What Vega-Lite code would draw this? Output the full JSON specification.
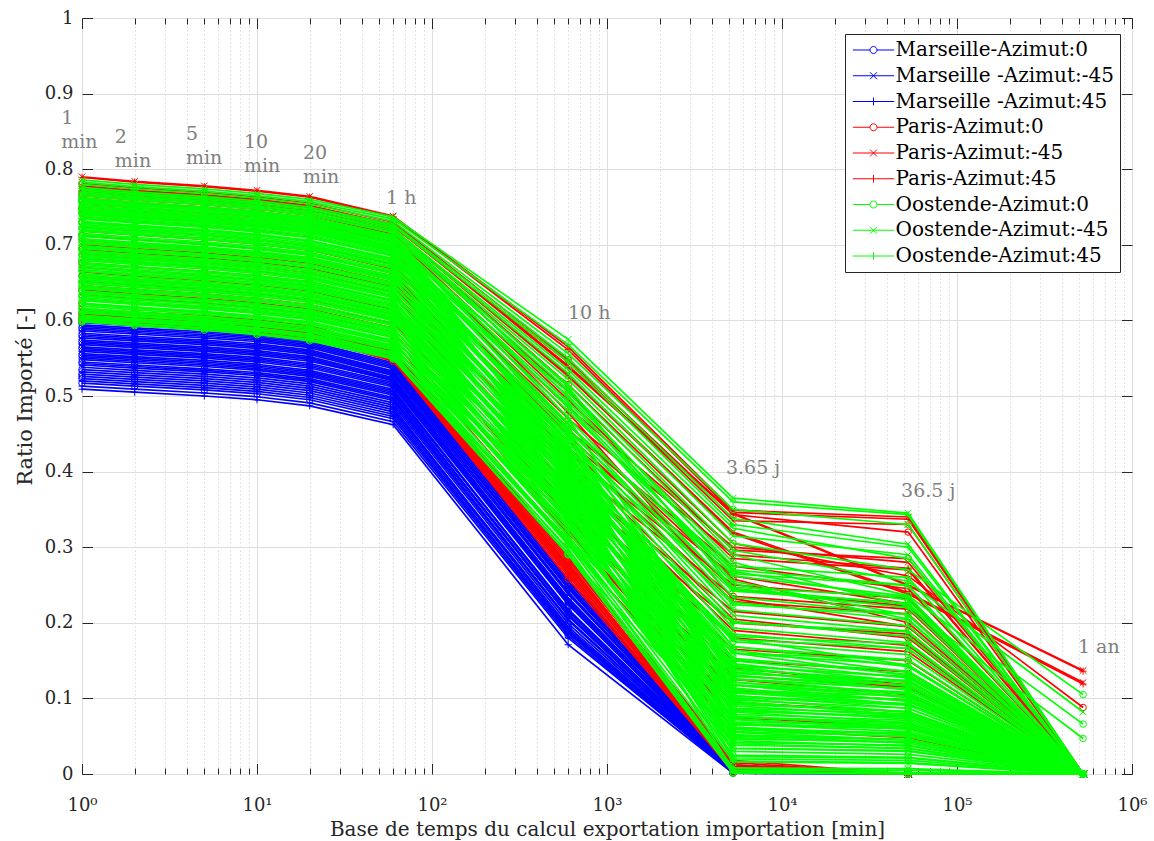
{
"$schema":"https://vega.github.io/schema/vega-lite/v6.json",
"width":1050,"height":756,
"autosize":{"type":"none"},
"padding":{"left":82,"top":18,"right":22,"bottom":67},
"background":"white",
"datasets":{
"names":[{"k":"M0","s":"Marseille-Azimut:0"},{"k":"M-","s":"Marseille -Azimut:-45"},{"k":"M+","s":"Marseille -Azimut:45"},{"k":"P0","s":"Paris-Azimut:0"},{"k":"P-","s":"Paris-Azimut:-45"},{"k":"P+","s":"Paris-Azimut:45"},{"k":"O0","s":"Oostende-Azimut:0"},{"k":"O-","s":"Oostende-Azimut:-45"},{"k":"O+","s":"Oostende-Azimut:45"}],
"xs":[{"t":"a","minutes":1},{"t":"b","minutes":2},{"t":"c","minutes":5},{"t":"d","minutes":10},{"t":"e","minutes":20},{"t":"f","minutes":60},{"t":"g","minutes":600},{"t":"h","minutes":5256},{"t":"i","minutes":52560},{"t":"j","minutes":525600}],
"lines":[
{"k":"M+","id":1,"a":0.509,"b":0.505,"c":0.5,"d":0.495,"e":0.487,"f":0.462,"g":0.171,"h":0.001,"i":0,"j":0},
{"k":"M+","id":2,"a":0.513,"b":0.509,"c":0.504,"d":0.499,"e":0.491,"f":0.466,"g":0.18,"h":0.002,"i":0,"j":0},
{"k":"M+","id":3,"a":0.52,"b":0.516,"c":0.511,"d":0.506,"e":0.498,"f":0.473,"g":0.186,"h":0.002,"i":0,"j":0},
{"k":"M+","id":4,"a":0.532,"b":0.528,"c":0.523,"d":0.518,"e":0.51,"f":0.485,"g":0.19,"h":0.003,"i":0,"j":0},
{"k":"M+","id":5,"a":0.541,"b":0.537,"c":0.532,"d":0.527,"e":0.519,"f":0.494,"g":0.205,"h":0.004,"i":0,"j":0},
{"k":"M+","id":6,"a":0.55,"b":0.546,"c":0.541,"d":0.536,"e":0.528,"f":0.503,"g":0.209,"h":0.005,"i":0,"j":0},
{"k":"M+","id":7,"a":0.559,"b":0.555,"c":0.55,"d":0.545,"e":0.537,"f":0.512,"g":0.224,"h":0.006,"i":0,"j":0},
{"k":"M+","id":8,"a":0.568,"b":0.564,"c":0.559,"d":0.554,"e":0.546,"f":0.521,"g":0.227,"h":0.007,"i":0,"j":0},
{"k":"M+","id":9,"a":0.577,"b":0.573,"c":0.568,"d":0.563,"e":0.555,"f":0.527,"g":0.241,"h":0.008,"i":0,"j":0},
{"k":"M+","id":10,"a":0.586,"b":0.582,"c":0.577,"d":0.572,"e":0.564,"f":0.536,"g":0.246,"h":0.01,"i":0,"j":0},
{"k":"M+","id":11,"a":0.594,"b":0.59,"c":0.585,"d":0.58,"e":0.572,"f":0.544,"g":0.258,"h":0.011,"i":0,"j":0},
{"k":"M0","id":12,"a":0.517,"b":0.513,"c":0.508,"d":0.503,"e":0.495,"f":0.47,"g":0.183,"h":0.001,"i":0,"j":0},
{"k":"M0","id":13,"a":0.523,"b":0.519,"c":0.514,"d":0.509,"e":0.501,"f":0.476,"g":0.188,"h":0.002,"i":0,"j":0},
{"k":"M0","id":14,"a":0.526,"b":0.522,"c":0.517,"d":0.512,"e":0.504,"f":0.479,"g":0.192,"h":0.003,"i":0,"j":0},
{"k":"M0","id":15,"a":0.529,"b":0.525,"c":0.52,"d":0.515,"e":0.507,"f":0.482,"g":0.195,"h":0.003,"i":0,"j":0},
{"k":"M0","id":16,"a":0.535,"b":0.531,"c":0.526,"d":0.521,"e":0.513,"f":0.488,"g":0.199,"h":0.004,"i":0,"j":0},
{"k":"M0","id":17,"a":0.545,"b":0.541,"c":0.536,"d":0.531,"e":0.523,"f":0.498,"g":0.21,"h":0.005,"i":0,"j":0},
{"k":"M0","id":18,"a":0.554,"b":0.55,"c":0.545,"d":0.54,"e":0.532,"f":0.507,"g":0.215,"h":0.006,"i":0,"j":0},
{"k":"M0","id":19,"a":0.563,"b":0.559,"c":0.554,"d":0.549,"e":0.541,"f":0.516,"g":0.228,"h":0.007,"i":0,"j":0},
{"k":"M0","id":20,"a":0.572,"b":0.568,"c":0.563,"d":0.558,"e":0.55,"f":0.522,"g":0.232,"h":0.008,"i":0,"j":0},
{"k":"M0","id":21,"a":0.581,"b":0.577,"c":0.572,"d":0.567,"e":0.559,"f":0.531,"g":0.245,"h":0.009,"i":0,"j":0},
{"k":"M0","id":22,"a":0.59,"b":0.586,"c":0.581,"d":0.576,"e":0.568,"f":0.54,"g":0.249,"h":0.01,"i":0,"j":0},
{"k":"M0","id":23,"a":0.597,"b":0.593,"c":0.588,"d":0.583,"e":0.575,"f":0.547,"g":0.256,"h":0.012,"i":0,"j":0},
{"k":"M-","id":24,"a":0.538,"b":0.534,"c":0.529,"d":0.524,"e":0.516,"f":0.491,"g":0.203,"h":0.004,"i":0,"j":0},
{"k":"M-","id":25,"a":0.543,"b":0.539,"c":0.534,"d":0.529,"e":0.521,"f":0.496,"g":0.204,"h":0.004,"i":0,"j":0},
{"k":"M-","id":26,"a":0.548,"b":0.544,"c":0.539,"d":0.534,"e":0.526,"f":0.501,"g":0.212,"h":0.005,"i":0,"j":0},
{"k":"M-","id":27,"a":0.552,"b":0.548,"c":0.543,"d":0.538,"e":0.53,"f":0.505,"g":0.218,"h":0.005,"i":0,"j":0},
{"k":"M-","id":28,"a":0.556,"b":0.552,"c":0.547,"d":0.542,"e":0.534,"f":0.509,"g":0.216,"h":0.006,"i":0,"j":0},
{"k":"M-","id":29,"a":0.561,"b":0.557,"c":0.552,"d":0.547,"e":0.539,"f":0.514,"g":0.225,"h":0.006,"i":0,"j":0},
{"k":"M-","id":30,"a":0.565,"b":0.561,"c":0.556,"d":0.551,"e":0.543,"f":0.518,"g":0.23,"h":0.007,"i":0,"j":0},
{"k":"M-","id":31,"a":0.57,"b":0.566,"c":0.561,"d":0.556,"e":0.548,"f":0.52,"g":0.233,"h":0.007,"i":0,"j":0},
{"k":"M-","id":32,"a":0.574,"b":0.57,"c":0.565,"d":0.56,"e":0.552,"f":0.524,"g":0.238,"h":0.008,"i":0,"j":0},
{"k":"M-","id":33,"a":0.579,"b":0.575,"c":0.57,"d":0.565,"e":0.557,"f":0.529,"g":0.24,"h":0.009,"i":0,"j":0},
{"k":"M-","id":34,"a":0.583,"b":0.579,"c":0.574,"d":0.569,"e":0.561,"f":0.533,"g":0.247,"h":0.009,"i":0,"j":0},
{"k":"M-","id":35,"a":0.588,"b":0.584,"c":0.579,"d":0.574,"e":0.566,"f":0.538,"g":0.251,"h":0.01,"i":0,"j":0},
{"k":"M-","id":36,"a":0.592,"b":0.588,"c":0.583,"d":0.578,"e":0.57,"f":0.542,"g":0.254,"h":0.011,"i":0,"j":0},
{"k":"P0","id":37,"a":0.599,"b":0.595,"c":0.59,"d":0.585,"e":0.577,"f":0.546,"g":0.258,"h":0.003,"i":0,"j":0},
{"k":"P-","id":38,"a":0.6,"b":0.596,"c":0.591,"d":0.586,"e":0.578,"f":0.547,"g":0.262,"h":0.006,"i":0,"j":0},
{"k":"P+","id":39,"a":0.601,"b":0.597,"c":0.592,"d":0.587,"e":0.579,"f":0.548,"g":0.265,"h":0.002,"i":0,"j":0},
{"k":"P0","id":40,"a":0.602,"b":0.598,"c":0.593,"d":0.588,"e":0.58,"f":0.549,"g":0.268,"h":0.008,"i":0,"j":0},
{"k":"P-","id":41,"a":0.603,"b":0.599,"c":0.594,"d":0.589,"e":0.581,"f":0.55,"g":0.27,"h":0.004,"i":0,"j":0},
{"k":"P+","id":42,"a":0.604,"b":0.6,"c":0.595,"d":0.59,"e":0.582,"f":0.551,"g":0.273,"h":0.01,"i":0,"j":0},
{"k":"P0","id":43,"a":0.605,"b":0.601,"c":0.596,"d":0.591,"e":0.583,"f":0.552,"g":0.275,"h":0.005,"i":0,"j":0},
{"k":"P-","id":44,"a":0.606,"b":0.602,"c":0.597,"d":0.592,"e":0.584,"f":0.553,"g":0.277,"h":0.012,"i":0,"j":0},
{"k":"P+","id":45,"a":0.608,"b":0.604,"c":0.599,"d":0.594,"e":0.586,"f":0.555,"g":0.28,"h":0.007,"i":0,"j":0},
{"k":"P0","id":46,"a":0.61,"b":0.606,"c":0.601,"d":0.596,"e":0.588,"f":0.557,"g":0.283,"h":0.015,"i":0,"j":0},
{"k":"P-","id":47,"a":0.612,"b":0.608,"c":0.603,"d":0.598,"e":0.59,"f":0.559,"g":0.286,"h":0.009,"i":0,"j":0},
{"k":"P+","id":48,"a":0.615,"b":0.611,"c":0.606,"d":0.601,"e":0.593,"f":0.562,"g":0.289,"h":0.018,"i":0,"j":0},
{"k":"P0","id":49,"a":0.622,"b":0.617,"c":0.611,"d":0.605,"e":0.597,"f":0.572,"g":0.305,"h":0.06,"i":0.048,"j":0},
{"k":"P-","id":50,"a":0.628,"b":0.623,"c":0.617,"d":0.611,"e":0.603,"f":0.578,"g":0.318,"h":0.095,"i":0.082,"j":0},
{"k":"P+","id":51,"a":0.634,"b":0.629,"c":0.623,"d":0.617,"e":0.609,"f":0.584,"g":0.335,"h":0.13,"i":0.115,"j":0},
{"k":"P0","id":52,"a":0.64,"b":0.635,"c":0.629,"d":0.623,"e":0.615,"f":0.59,"g":0.322,"h":0.075,"i":0.062,"j":0},
{"k":"P-","id":53,"a":0.646,"b":0.641,"c":0.635,"d":0.629,"e":0.621,"f":0.596,"g":0.35,"h":0.15,"i":0.135,"j":0},
{"k":"P+","id":54,"a":0.652,"b":0.647,"c":0.641,"d":0.635,"e":0.627,"f":0.602,"g":0.34,"h":0.11,"i":0.098,"j":0},
{"k":"P0","id":55,"a":0.658,"b":0.653,"c":0.647,"d":0.641,"e":0.633,"f":0.608,"g":0.365,"h":0.18,"i":0.162,"j":0},
{"k":"P-","id":56,"a":0.664,"b":0.659,"c":0.653,"d":0.647,"e":0.639,"f":0.614,"g":0.355,"h":0.14,"i":0.118,"j":0},
{"k":"P+","id":57,"a":0.67,"b":0.665,"c":0.659,"d":0.653,"e":0.645,"f":0.62,"g":0.38,"h":0.2,"i":0.185,"j":0},
{"k":"P0","id":58,"a":0.676,"b":0.671,"c":0.665,"d":0.659,"e":0.651,"f":0.626,"g":0.372,"h":0.165,"i":0.15,"j":0},
{"k":"P-","id":59,"a":0.682,"b":0.677,"c":0.671,"d":0.665,"e":0.657,"f":0.632,"g":0.395,"h":0.215,"i":0.195,"j":0},
{"k":"P+","id":60,"a":0.688,"b":0.683,"c":0.677,"d":0.671,"e":0.663,"f":0.638,"g":0.388,"h":0.125,"i":0.105,"j":0},
{"k":"P0","id":61,"a":0.694,"b":0.689,"c":0.683,"d":0.677,"e":0.669,"f":0.644,"g":0.41,"h":0.235,"i":0.218,"j":0},
{"k":"P-","id":62,"a":0.7,"b":0.695,"c":0.689,"d":0.683,"e":0.675,"f":0.65,"g":0.402,"h":0.19,"i":0.17,"j":0},
{"k":"P+","id":63,"a":0.706,"b":0.701,"c":0.695,"d":0.689,"e":0.681,"f":0.656,"g":0.425,"h":0.25,"i":0.232,"j":0},
{"k":"P0","id":64,"a":0.712,"b":0.707,"c":0.701,"d":0.695,"e":0.687,"f":0.662,"g":0.418,"h":0.205,"i":0.18,"j":0},
{"k":"P-","id":65,"a":0.718,"b":0.713,"c":0.707,"d":0.701,"e":0.693,"f":0.668,"g":0.44,"h":0.262,"i":0.225,"j":0},
{"k":"P+","id":66,"a":0.724,"b":0.719,"c":0.713,"d":0.707,"e":0.699,"f":0.674,"g":0.432,"h":0.228,"i":0.212,"j":0},
{"k":"P0","id":67,"a":0.73,"b":0.725,"c":0.719,"d":0.713,"e":0.705,"f":0.68,"g":0.455,"h":0.275,"i":0.245,"j":0},
{"k":"P-","id":68,"a":0.736,"b":0.731,"c":0.725,"d":0.719,"e":0.711,"f":0.686,"g":0.448,"h":0.245,"i":0.222,"j":0},
{"k":"P+","id":69,"a":0.742,"b":0.737,"c":0.731,"d":0.725,"e":0.717,"f":0.692,"g":0.47,"h":0.29,"i":0.272,"j":0},
{"k":"P0","id":70,"a":0.748,"b":0.743,"c":0.737,"d":0.731,"e":0.723,"f":0.698,"g":0.462,"h":0.258,"i":0.2,"j":0},
{"k":"P-","id":71,"a":0.754,"b":0.749,"c":0.743,"d":0.737,"e":0.729,"f":0.704,"g":0.485,"h":0.3,"i":0.28,"j":0},
{"k":"P+","id":72,"a":0.76,"b":0.755,"c":0.749,"d":0.743,"e":0.735,"f":0.71,"g":0.478,"h":0.232,"i":0.195,"j":0},
{"k":"P-","id":73,"a":0.79,"b":0.784,"c":0.778,"d":0.772,"e":0.764,"f":0.738,"g":0.565,"h":0.349,"i":0.34,"j":0},
{"k":"P+","id":74,"a":0.789,"b":0.783,"c":0.777,"d":0.771,"e":0.763,"f":0.737,"g":0.561,"h":0.346,"i":0.337,"j":0},
{"k":"P0","id":75,"a":0.781,"b":0.775,"c":0.769,"d":0.763,"e":0.755,"f":0.73,"g":0.548,"h":0.343,"i":0.32,"j":0},
{"k":"P-","id":76,"a":0.778,"b":0.772,"c":0.766,"d":0.76,"e":0.752,"f":0.727,"g":0.54,"h":0.345,"i":0.25,"j":0.137},
{"k":"P+","id":77,"a":0.777,"b":0.771,"c":0.765,"d":0.759,"e":0.751,"f":0.726,"g":0.538,"h":0.344,"i":0.249,"j":0.136},
{"k":"P-","id":78,"a":0.772,"b":0.766,"c":0.76,"d":0.754,"e":0.746,"f":0.721,"g":0.528,"h":0.32,"i":0.24,"j":0.121},
{"k":"P+","id":79,"a":0.771,"b":0.765,"c":0.759,"d":0.753,"e":0.745,"f":0.72,"g":0.526,"h":0.318,"i":0.238,"j":0.119},
{"k":"P0","id":80,"a":0.768,"b":0.762,"c":0.756,"d":0.75,"e":0.742,"f":0.717,"g":0.515,"h":0.305,"i":0.262,"j":0.088},
{"k":"P0","id":81,"a":0.765,"b":0.759,"c":0.753,"d":0.747,"e":0.739,"f":0.714,"g":0.505,"h":0.296,"i":0.285,"j":0},
{"k":"P-","id":82,"a":0.775,"b":0.769,"c":0.763,"d":0.757,"e":0.749,"f":0.724,"g":0.545,"h":0.335,"i":0.33,"j":0},
{"k":"P+","id":83,"a":0.762,"b":0.756,"c":0.75,"d":0.744,"e":0.736,"f":0.711,"g":0.495,"h":0.285,"i":0.27,"j":0},
{"k":"O0","id":84,"a":0.598,"b":0.593,"c":0.587,"d":0.581,"e":0.573,"f":0.549,"g":0.29,"h":0.051,"i":0.041,"j":0},
{"k":"O-","id":85,"a":0.6,"b":0.595,"c":0.589,"d":0.583,"e":0.575,"f":0.551,"g":0.339,"h":0.016,"i":0.014,"j":0},
{"k":"O+","id":86,"a":0.603,"b":0.598,"c":0.592,"d":0.586,"e":0.578,"f":0.554,"g":0.311,"h":0.04,"i":0.034,"j":0},
{"k":"O0","id":87,"a":0.605,"b":0.6,"c":0.594,"d":0.588,"e":0.58,"f":0.556,"g":0.36,"h":0.005,"i":0.005,"j":0},
{"k":"O-","id":88,"a":0.607,"b":0.602,"c":0.596,"d":0.59,"e":0.582,"f":0.558,"g":0.332,"h":0.03,"i":0.026,"j":0},
{"k":"O+","id":89,"a":0.61,"b":0.605,"c":0.599,"d":0.593,"e":0.585,"f":0.561,"g":0.305,"h":0.055,"i":0.045,"j":0},
{"k":"O0","id":90,"a":0.612,"b":0.607,"c":0.601,"d":0.595,"e":0.587,"f":0.563,"g":0.353,"h":0.02,"i":0.018,"j":0},
{"k":"O-","id":91,"a":0.614,"b":0.609,"c":0.603,"d":0.597,"e":0.589,"f":0.565,"g":0.326,"h":0.044,"i":0.037,"j":0},
{"k":"O+","id":92,"a":0.616,"b":0.611,"c":0.605,"d":0.599,"e":0.591,"f":0.567,"g":0.375,"h":0.16,"i":0.151,"j":0},
{"k":"O0","id":93,"a":0.619,"b":0.614,"c":0.608,"d":0.602,"e":0.594,"f":0.57,"g":0.347,"h":0.034,"i":0.03,"j":0},
{"k":"O-","id":94,"a":0.621,"b":0.616,"c":0.61,"d":0.604,"e":0.596,"f":0.572,"g":0.32,"h":0.059,"i":0.049,"j":0},
{"k":"O+","id":95,"a":0.623,"b":0.618,"c":0.612,"d":0.606,"e":0.598,"f":0.574,"g":0.368,"h":0.023,"i":0.021,"j":0},
{"k":"O0","id":96,"a":0.626,"b":0.621,"c":0.615,"d":0.609,"e":0.601,"f":0.577,"g":0.341,"h":0.048,"i":0.041,"j":0},
{"k":"O-","id":97,"a":0.628,"b":0.623,"c":0.617,"d":0.611,"e":0.603,"f":0.579,"g":0.314,"h":0.073,"i":0.059,"j":0},
{"k":"O+","id":98,"a":0.63,"b":0.625,"c":0.619,"d":0.613,"e":0.605,"f":0.581,"g":0.362,"h":0.038,"i":0.034,"j":0},
{"k":"O0","id":99,"a":0.633,"b":0.628,"c":0.622,"d":0.616,"e":0.608,"f":0.584,"g":0.335,"h":0.062,"i":0.052,"j":0},
{"k":"O-","id":100,"a":0.635,"b":0.63,"c":0.624,"d":0.618,"e":0.61,"f":0.586,"g":0.383,"h":0.178,"i":0.166,"j":0},
{"k":"O+","id":101,"a":0.637,"b":0.632,"c":0.626,"d":0.62,"e":0.612,"f":0.588,"g":0.356,"h":0.052,"i":0.046,"j":0},
{"k":"O0","id":102,"a":0.639,"b":0.634,"c":0.628,"d":0.622,"e":0.614,"f":0.59,"g":0.328,"h":0.077,"i":0.063,"j":0},
{"k":"O-","id":103,"a":0.642,"b":0.637,"c":0.631,"d":0.625,"e":0.617,"f":0.593,"g":0.377,"h":0.042,"i":0.038,"j":0},
{"k":"O+","id":104,"a":0.644,"b":0.639,"c":0.633,"d":0.627,"e":0.619,"f":0.595,"g":0.349,"h":0.066,"i":0.056,"j":0},
{"k":"O0","id":105,"a":0.646,"b":0.641,"c":0.635,"d":0.629,"e":0.621,"f":0.597,"g":0.398,"h":0.182,"i":0.172,"j":0},
{"k":"O-","id":106,"a":0.649,"b":0.644,"c":0.638,"d":0.632,"e":0.624,"f":0.6,"g":0.371,"h":0.056,"i":0.05,"j":0},
{"k":"O+","id":107,"a":0.651,"b":0.646,"c":0.64,"d":0.634,"e":0.626,"f":0.602,"g":0.343,"h":0.082,"i":0.068,"j":0},
{"k":"O0","id":108,"a":0.653,"b":0.648,"c":0.642,"d":0.636,"e":0.628,"f":0.604,"g":0.392,"h":0.046,"i":0.043,"j":0},
{"k":"O-","id":109,"a":0.656,"b":0.651,"c":0.645,"d":0.639,"e":0.631,"f":0.607,"g":0.364,"h":0.072,"i":0.062,"j":0},
{"k":"O+","id":110,"a":0.658,"b":0.653,"c":0.647,"d":0.641,"e":0.633,"f":0.609,"g":0.337,"h":0.096,"i":0.078,"j":0},
{"k":"O0","id":111,"a":0.66,"b":0.655,"c":0.649,"d":0.643,"e":0.635,"f":0.611,"g":0.385,"h":0.06,"i":0.054,"j":0},
{"k":"O-","id":112,"a":0.662,"b":0.657,"c":0.651,"d":0.645,"e":0.637,"f":0.613,"g":0.358,"h":0.086,"i":0.073,"j":0},
{"k":"O+","id":113,"a":0.665,"b":0.66,"c":0.654,"d":0.648,"e":0.64,"f":0.616,"g":0.407,"h":0.2,"i":0.188,"j":0},
{"k":"O0","id":114,"a":0.667,"b":0.662,"c":0.656,"d":0.65,"e":0.642,"f":0.618,"g":0.379,"h":0.075,"i":0.066,"j":0},
{"k":"O-","id":115,"a":0.669,"b":0.664,"c":0.658,"d":0.652,"e":0.644,"f":0.62,"g":0.352,"h":0.1,"i":0.082,"j":0},
{"k":"O+","id":116,"a":0.672,"b":0.667,"c":0.661,"d":0.655,"e":0.647,"f":0.623,"g":0.4,"h":0.065,"i":0.06,"j":0},
{"k":"O0","id":117,"a":0.674,"b":0.669,"c":0.663,"d":0.657,"e":0.649,"f":0.625,"g":0.373,"h":0.09,"i":0.077,"j":0},
{"k":"O-","id":118,"a":0.676,"b":0.671,"c":0.665,"d":0.659,"e":0.651,"f":0.627,"g":0.345,"h":0.114,"i":0.091,"j":0},
{"k":"O+","id":119,"a":0.679,"b":0.674,"c":0.668,"d":0.662,"e":0.654,"f":0.63,"g":0.394,"h":0.079,"i":0.071,"j":0},
{"k":"O0","id":120,"a":0.681,"b":0.676,"c":0.67,"d":0.664,"e":0.656,"f":0.632,"g":0.367,"h":0.104,"i":0.087,"j":0},
{"k":"O-","id":121,"a":0.683,"b":0.678,"c":0.672,"d":0.666,"e":0.658,"f":0.634,"g":0.415,"h":0.069,"i":0.064,"j":0},
{"k":"O+","id":122,"a":0.685,"b":0.68,"c":0.674,"d":0.668,"e":0.66,"f":0.636,"g":0.388,"h":0.094,"i":0.082,"j":0},
{"k":"O0","id":123,"a":0.688,"b":0.683,"c":0.677,"d":0.671,"e":0.663,"f":0.639,"g":0.36,"h":0.118,"i":0.096,"j":0},
{"k":"O-","id":124,"a":0.69,"b":0.685,"c":0.679,"d":0.673,"e":0.665,"f":0.641,"g":0.409,"h":0.083,"i":0.075,"j":0},
{"k":"O+","id":125,"a":0.692,"b":0.687,"c":0.681,"d":0.675,"e":0.667,"f":0.643,"g":0.381,"h":0.108,"i":0.092,"j":0},
{"k":"O0","id":126,"a":0.695,"b":0.69,"c":0.684,"d":0.678,"e":0.67,"f":0.646,"g":0.43,"h":0.224,"i":0.211,"j":0},
{"k":"O-","id":127,"a":0.697,"b":0.692,"c":0.686,"d":0.68,"e":0.672,"f":0.648,"g":0.403,"h":0.098,"i":0.087,"j":0},
{"k":"O+","id":128,"a":0.699,"b":0.694,"c":0.688,"d":0.682,"e":0.674,"f":0.65,"g":0.375,"h":0.122,"i":0.101,"j":0},
{"k":"O0","id":129,"a":0.702,"b":0.697,"c":0.691,"d":0.685,"e":0.677,"f":0.653,"g":0.424,"h":0.087,"i":0.08,"j":0},
{"k":"O-","id":130,"a":0.704,"b":0.699,"c":0.693,"d":0.687,"e":0.679,"f":0.655,"g":0.396,"h":0.112,"i":0.097,"j":0},
{"k":"O+","id":131,"a":0.706,"b":0.701,"c":0.695,"d":0.689,"e":0.681,"f":0.657,"g":0.369,"h":0.138,"i":0.111,"j":0},
{"k":"O0","id":132,"a":0.708,"b":0.703,"c":0.697,"d":0.691,"e":0.683,"f":0.659,"g":0.418,"h":0.103,"i":0.093,"j":0},
{"k":"O-","id":133,"a":0.711,"b":0.706,"c":0.7,"d":0.694,"e":0.686,"f":0.662,"g":0.39,"h":0.126,"i":0.106,"j":0},
{"k":"O+","id":134,"a":0.713,"b":0.708,"c":0.702,"d":0.696,"e":0.688,"f":0.664,"g":0.439,"h":0.242,"i":0.226,"j":0},
{"k":"O0","id":135,"a":0.715,"b":0.71,"c":0.704,"d":0.698,"e":0.69,"f":0.666,"g":0.411,"h":0.117,"i":0.103,"j":0},
{"k":"O-","id":136,"a":0.718,"b":0.713,"c":0.707,"d":0.701,"e":0.693,"f":0.669,"g":0.384,"h":0.142,"i":0.116,"j":0},
{"k":"O+","id":137,"a":0.72,"b":0.715,"c":0.709,"d":0.703,"e":0.695,"f":0.671,"g":0.432,"h":0.107,"i":0.098,"j":0},
{"k":"O0","id":138,"a":0.722,"b":0.717,"c":0.711,"d":0.705,"e":0.697,"f":0.673,"g":0.405,"h":0.131,"i":0.112,"j":0},
{"k":"O-","id":139,"a":0.725,"b":0.72,"c":0.714,"d":0.708,"e":0.7,"f":0.676,"g":0.454,"h":0.247,"i":0.234,"j":0},
{"k":"O+","id":140,"a":0.727,"b":0.722,"c":0.716,"d":0.71,"e":0.702,"f":0.678,"g":0.426,"h":0.121,"i":0.108,"j":0},
{"k":"O0","id":141,"a":0.729,"b":0.724,"c":0.718,"d":0.712,"e":0.704,"f":0.68,"g":0.399,"h":0.146,"i":0.122,"j":0},
{"k":"O-","id":142,"a":0.731,"b":0.726,"c":0.72,"d":0.714,"e":0.706,"f":0.682,"g":0.447,"h":0.111,"i":0.103,"j":0},
{"k":"O+","id":143,"a":0.734,"b":0.729,"c":0.723,"d":0.717,"e":0.709,"f":0.685,"g":0.42,"h":0.135,"i":0.117,"j":0},
{"k":"O0","id":144,"a":0.736,"b":0.731,"c":0.725,"d":0.719,"e":0.711,"f":0.687,"g":0.392,"h":0.16,"i":0.13,"j":0},
{"k":"O-","id":145,"a":0.738,"b":0.733,"c":0.727,"d":0.721,"e":0.713,"f":0.689,"g":0.441,"h":0.125,"i":0.113,"j":0},
{"k":"O+","id":146,"a":0.741,"b":0.736,"c":0.73,"d":0.724,"e":0.716,"f":0.692,"g":0.414,"h":0.15,"i":0.127,"j":0},
{"k":"O0","id":147,"a":0.743,"b":0.738,"c":0.732,"d":0.726,"e":0.718,"f":0.694,"g":0.462,"h":0.265,"i":0.249,"j":0},
{"k":"O-","id":148,"a":0.745,"b":0.74,"c":0.734,"d":0.728,"e":0.72,"f":0.696,"g":0.435,"h":0.139,"i":0.123,"j":0},
{"k":"O+","id":149,"a":0.748,"b":0.743,"c":0.737,"d":0.731,"e":0.723,"f":0.699,"g":0.407,"h":0.164,"i":0.135,"j":0},
{"k":"O0","id":150,"a":0.75,"b":0.745,"c":0.739,"d":0.733,"e":0.725,"f":0.701,"g":0.456,"h":0.129,"i":0.118,"j":0},
{"k":"O-","id":151,"a":0.752,"b":0.747,"c":0.741,"d":0.735,"e":0.727,"f":0.703,"g":0.428,"h":0.153,"i":0.132,"j":0},
{"k":"O+","id":152,"a":0.754,"b":0.749,"c":0.743,"d":0.737,"e":0.729,"f":0.705,"g":0.401,"h":0.179,"i":0.144,"j":0},
{"k":"O0","id":153,"a":0.757,"b":0.752,"c":0.746,"d":0.74,"e":0.732,"f":0.708,"g":0.45,"h":0.143,"i":0.128,"j":0},
{"k":"O-","id":154,"a":0.759,"b":0.754,"c":0.748,"d":0.742,"e":0.734,"f":0.71,"g":0.422,"h":0.169,"i":0.142,"j":0},
{"k":"O+","id":155,"a":0.761,"b":0.756,"c":0.75,"d":0.744,"e":0.736,"f":0.712,"g":0.471,"h":0.133,"i":0.124,"j":0},
{"k":"O0","id":177,"a":0.6,"b":0.595,"c":0.589,"d":0.583,"e":0.575,"f":0.551,"g":0.29,"h":0.001,"i":0,"j":0},
{"k":"O-","id":178,"a":0.605,"b":0.6,"c":0.594,"d":0.588,"e":0.58,"f":0.556,"g":0.296,"h":0.008,"i":0.007,"j":0},
{"k":"O+","id":179,"a":0.611,"b":0.606,"c":0.6,"d":0.594,"e":0.586,"f":0.562,"g":0.303,"h":0.017,"i":0.015,"j":0},
{"k":"O0","id":180,"a":0.616,"b":0.611,"c":0.605,"d":0.599,"e":0.591,"f":0.567,"g":0.308,"h":0.025,"i":0.022,"j":0},
{"k":"O-","id":181,"a":0.622,"b":0.617,"c":0.611,"d":0.605,"e":0.597,"f":0.573,"g":0.315,"h":0.034,"i":0.031,"j":0},
{"k":"O+","id":182,"a":0.627,"b":0.622,"c":0.616,"d":0.61,"e":0.602,"f":0.578,"g":0.321,"h":0.042,"i":0.038,"j":0},
{"k":"O0","id":183,"a":0.632,"b":0.627,"c":0.621,"d":0.615,"e":0.607,"f":0.583,"g":0.327,"h":0.05,"i":0.045,"j":0},
{"k":"O-","id":184,"a":0.638,"b":0.633,"c":0.627,"d":0.621,"e":0.613,"f":0.589,"g":0.334,"h":0.059,"i":0.053,"j":0},
{"k":"O+","id":185,"a":0.643,"b":0.638,"c":0.632,"d":0.626,"e":0.618,"f":0.594,"g":0.339,"h":0.067,"i":0.06,"j":0},
{"k":"O0","id":186,"a":0.649,"b":0.644,"c":0.638,"d":0.632,"e":0.624,"f":0.6,"g":0.346,"h":0.076,"i":0.068,"j":0},
{"k":"O-","id":187,"a":0.654,"b":0.649,"c":0.643,"d":0.637,"e":0.629,"f":0.605,"g":0.352,"h":0.084,"i":0.076,"j":0},
{"k":"O+","id":188,"a":0.659,"b":0.654,"c":0.648,"d":0.642,"e":0.634,"f":0.61,"g":0.358,"h":0.092,"i":0.083,"j":0},
{"k":"O0","id":189,"a":0.665,"b":0.66,"c":0.654,"d":0.648,"e":0.64,"f":0.616,"g":0.365,"h":0.101,"i":0.091,"j":0},
{"k":"O-","id":190,"a":0.67,"b":0.665,"c":0.659,"d":0.653,"e":0.645,"f":0.621,"g":0.371,"h":0.109,"i":0.098,"j":0},
{"k":"O+","id":191,"a":0.676,"b":0.671,"c":0.665,"d":0.659,"e":0.651,"f":0.627,"g":0.377,"h":0.118,"i":0.106,"j":0},
{"k":"O0","id":192,"a":0.681,"b":0.676,"c":0.67,"d":0.664,"e":0.656,"f":0.632,"g":0.383,"h":0.126,"i":0.113,"j":0},
{"k":"O-","id":193,"a":0.686,"b":0.681,"c":0.675,"d":0.669,"e":0.661,"f":0.637,"g":0.389,"h":0.134,"i":0.121,"j":0},
{"k":"O+","id":194,"a":0.692,"b":0.687,"c":0.681,"d":0.675,"e":0.667,"f":0.643,"g":0.396,"h":0.143,"i":0.129,"j":0},
{"k":"O0","id":195,"a":0.697,"b":0.692,"c":0.686,"d":0.68,"e":0.672,"f":0.648,"g":0.402,"h":0.151,"i":0.136,"j":0},
{"k":"O-","id":196,"a":0.703,"b":0.698,"c":0.692,"d":0.686,"e":0.678,"f":0.654,"g":0.408,"h":0.16,"i":0.144,"j":0},
{"k":"O+","id":197,"a":0.708,"b":0.703,"c":0.697,"d":0.691,"e":0.683,"f":0.659,"g":0.414,"h":0.168,"i":0.151,"j":0},
{"k":"O0","id":198,"a":0.713,"b":0.708,"c":0.702,"d":0.696,"e":0.688,"f":0.664,"g":0.42,"h":0.175,"i":0.158,"j":0},
{"k":"O-","id":199,"a":0.719,"b":0.714,"c":0.708,"d":0.702,"e":0.694,"f":0.67,"g":0.427,"h":0.185,"i":0.166,"j":0},
{"k":"O+","id":200,"a":0.724,"b":0.719,"c":0.713,"d":0.707,"e":0.699,"f":0.675,"g":0.433,"h":0.193,"i":0.174,"j":0},
{"k":"O0","id":201,"a":0.73,"b":0.725,"c":0.719,"d":0.713,"e":0.705,"f":0.681,"g":0.44,"h":0.202,"i":0.182,"j":0},
{"k":"O-","id":202,"a":0.735,"b":0.73,"c":0.724,"d":0.718,"e":0.71,"f":0.686,"g":0.445,"h":0.21,"i":0.189,"j":0},
{"k":"O+","id":203,"a":0.74,"b":0.735,"c":0.729,"d":0.723,"e":0.715,"f":0.691,"g":0.451,"h":0.217,"i":0.196,"j":0},
{"k":"O0","id":204,"a":0.746,"b":0.741,"c":0.735,"d":0.729,"e":0.721,"f":0.697,"g":0.458,"h":0.227,"i":0.204,"j":0},
{"k":"O-","id":205,"a":0.751,"b":0.746,"c":0.74,"d":0.734,"e":0.726,"f":0.702,"g":0.464,"h":0.234,"i":0.211,"j":0},
{"k":"O+","id":206,"a":0.757,"b":0.752,"c":0.746,"d":0.74,"e":0.732,"f":0.708,"g":0.471,"h":0.244,"i":0.22,"j":0},
{"k":"O-","id":156,"a":0.786,"b":0.78,"c":0.774,"d":0.768,"e":0.76,"f":0.737,"g":0.575,"h":0.365,"i":0.345,"j":0},
{"k":"O+","id":157,"a":0.783,"b":0.777,"c":0.771,"d":0.765,"e":0.757,"f":0.734,"g":0.568,"h":0.36,"i":0.343,"j":0},
{"k":"O0","id":158,"a":0.78,"b":0.774,"c":0.768,"d":0.762,"e":0.754,"f":0.731,"g":0.556,"h":0.35,"i":0.33,"j":0},
{"k":"O-","id":159,"a":0.776,"b":0.77,"c":0.764,"d":0.758,"e":0.75,"f":0.727,"g":0.55,"h":0.338,"i":0.304,"j":0},
{"k":"O+","id":160,"a":0.774,"b":0.768,"c":0.762,"d":0.756,"e":0.748,"f":0.725,"g":0.545,"h":0.33,"i":0.3,"j":0},
{"k":"O0","id":161,"a":0.77,"b":0.764,"c":0.758,"d":0.752,"e":0.744,"f":0.721,"g":0.535,"h":0.325,"i":0.285,"j":0},
{"k":"O-","id":162,"a":0.768,"b":0.762,"c":0.756,"d":0.75,"e":0.742,"f":0.719,"g":0.53,"h":0.315,"i":0.29,"j":0},
{"k":"O0","id":163,"a":0.765,"b":0.759,"c":0.753,"d":0.747,"e":0.739,"f":0.716,"g":0.522,"h":0.305,"i":0.27,"j":0.105},
{"k":"O-","id":164,"a":0.762,"b":0.756,"c":0.75,"d":0.744,"e":0.736,"f":0.713,"g":0.515,"h":0.296,"i":0.255,"j":0.082},
{"k":"O0","id":165,"a":0.76,"b":0.754,"c":0.748,"d":0.742,"e":0.734,"f":0.711,"g":0.508,"h":0.29,"i":0.236,"j":0.066},
{"k":"O0","id":166,"a":0.756,"b":0.75,"c":0.744,"d":0.738,"e":0.73,"f":0.707,"g":0.5,"h":0.28,"i":0.222,"j":0.047},
{"k":"O+","id":167,"a":0.752,"b":0.746,"c":0.74,"d":0.734,"e":0.726,"f":0.703,"g":0.492,"h":0.275,"i":0.26,"j":0},
{"k":"O-","id":168,"a":0.748,"b":0.742,"c":0.736,"d":0.73,"e":0.722,"f":0.699,"g":0.505,"h":0.27,"i":0.25,"j":0},
{"k":"O+","id":169,"a":0.745,"b":0.739,"c":0.733,"d":0.727,"e":0.719,"f":0.696,"g":0.488,"h":0.262,"i":0.235,"j":0},
{"k":"O0","id":170,"a":0.742,"b":0.736,"c":0.73,"d":0.724,"e":0.716,"f":0.693,"g":0.48,"h":0.268,"i":0.23,"j":0},
{"k":"O-","id":171,"a":0.772,"b":0.766,"c":0.76,"d":0.754,"e":0.746,"f":0.723,"g":0.498,"h":0.255,"i":0.21,"j":0},
{"k":"O+","id":172,"a":0.766,"b":0.76,"c":0.754,"d":0.748,"e":0.74,"f":0.717,"g":0.512,"h":0.245,"i":0.225,"j":0},
{"k":"O0","id":173,"a":0.758,"b":0.752,"c":0.746,"d":0.74,"e":0.732,"f":0.709,"g":0.485,"h":0.252,"i":0.205,"j":0},
{"k":"O0","id":174,"a":0.598,"b":0.595,"c":0.59,"d":0.586,"e":0.578,"f":0.549,"g":0.292,"h":0.002,"i":0,"j":0},
{"k":"O-","id":175,"a":0.601,"b":0.598,"c":0.593,"d":0.589,"e":0.581,"f":0.551,"g":0.298,"h":0.004,"i":0.001,"j":0},
{"k":"O+","id":176,"a":0.605,"b":0.602,"c":0.597,"d":0.593,"e":0.585,"f":0.555,"g":0.305,"h":0.008,"i":0.002,"j":0}
]},
"data":{"name":"lines"},
"transform":[
{"lookup":"k","from":{"data":{"name":"names"},"key":"k","fields":["s"]}},
{"fold":["a","b","c","d","e","f","g","h","i","j"],"as":["t","y"]},
{"lookup":"t","from":{"data":{"name":"xs"},"key":"t","fields":["minutes"]}}
],
"encoding":{
"x":{"field":"minutes","type":"quantitative","scale":{"type":"log","domain":[1,1000000],"nice":false},"axis":null},
"y":{"field":"y","type":"quantitative","scale":{"domain":[0,1],"nice":false,"zero":false},"axis":null},
"color":{"field":"s","type":"nominal","scale":{"domain":["Marseille-Azimut:0","Marseille -Azimut:-45","Marseille -Azimut:45","Paris-Azimut:0","Paris-Azimut:-45","Paris-Azimut:45","Oostende-Azimut:0","Oostende-Azimut:-45","Oostende-Azimut:45"],"range":["#0000ff","#0000ff","#0000ff","#ff0000","#ff0000","#ff0000","#00ff00","#00ff00","#00ff00"]}}
},
"layer":[
{"transform":[{"filter":{"field":"k","oneOf":["M0","M-","M+"]}}],
 "mark":{"type":"line","strokeWidth":1.7},
 "encoding":{"detail":{"field":"id","type":"nominal"},
  "x":{"field":"minutes","type":"quantitative","scale":{"type":"log","domain":[1,1000000],"nice":false},
   "axis":{"orient":"bottom","values":[1,2,3,4,5,6,7,8,9,10,20,30,40,50,60,70,80,90,100,200,300,400,500,600,700,800,900,1000,2000,3000,4000,5000,6000,7000,8000,9000,10000,20000,30000,40000,50000,60000,70000,80000,90000,100000,200000,300000,400000,500000,600000,700000,800000,900000,1000000],
   "labelExpr":"datum.value==1?'10⁰':datum.value==10?'10¹':datum.value==100?'10²':datum.value==1000?'10³':datum.value==10000?'10⁴':datum.value==100000?'10⁵':datum.value==1000000?'10⁶':''",
   "labelFlush":false,"labelOverlap":false,"labelPadding":33,
   "tickSize":{"condition":{"test":"datum.value==1||datum.value==10||datum.value==100||datum.value==1000||datum.value==10000||datum.value==100000||datum.value==1000000","value":-10.5},"value":-6},
   "grid":true,
   "gridColor":{"condition":{"test":"datum.value==1||datum.value==10||datum.value==100||datum.value==1000||datum.value==10000||datum.value==100000||datum.value==1000000","value":"#dedede"},"value":"#c8c8c8"},
   "gridDash":{"condition":{"test":"datum.value==1||datum.value==10||datum.value==100||datum.value==1000||datum.value==10000||datum.value==100000||datum.value==1000000","value":[]},"value":[1,3]},
   "title":"Base de temps du calcul exportation importation [min]","titlePadding":0}},
  "y":{"field":"y","type":"quantitative","scale":{"domain":[0,1],"nice":false,"zero":false},
   "axis":{"orient":"left","values":[0,0.1,0.2,0.3,0.4,0.5,0.6,0.7,0.8,0.9,1],"format":"~g","tickSize":-10.5,"labelPadding":19.5,"grid":true,"gridColor":"#dedede","title":"Ratio  Importé [-]","titleFontSize":21,"titlePadding":9}}
 }},
{"transform":[{"filter":{"field":"k","equal":"M0"}}],"mark":{"type":"point","shape":"circle","filled":false,"size":42,"strokeWidth":1,"opacity":1}},
{"transform":[{"filter":{"field":"k","equal":"M-"}}],"mark":{"type":"point","shape":"M-1,-1L1,1M-1,1L1,-1","filled":false,"size":42,"strokeWidth":1,"opacity":1}},
{"transform":[{"filter":{"field":"k","equal":"M+"}}],"mark":{"type":"point","shape":"M-1,0L1,0M0,-1L0,1","filled":false,"size":50,"strokeWidth":1,"opacity":1}},
{"transform":[{"filter":{"field":"k","oneOf":["P0","P-","P+"]}}],"mark":{"type":"line","strokeWidth":1.7},"encoding":{"detail":{"field":"id","type":"nominal"}}},
{"transform":[{"filter":{"field":"k","equal":"P0"}}],"mark":{"type":"point","shape":"circle","filled":false,"size":42,"strokeWidth":1,"opacity":1}},
{"transform":[{"filter":{"field":"k","equal":"P-"}}],"mark":{"type":"point","shape":"M-1,-1L1,1M-1,1L1,-1","filled":false,"size":42,"strokeWidth":1,"opacity":1}},
{"transform":[{"filter":{"field":"k","equal":"P+"}}],"mark":{"type":"point","shape":"M-1,0L1,0M0,-1L0,1","filled":false,"size":50,"strokeWidth":1,"opacity":1}},
{"transform":[{"filter":{"field":"k","oneOf":["O0","O-","O+"]}}],"mark":{"type":"line","strokeWidth":1.7},"encoding":{"detail":{"field":"id","type":"nominal"}}},
{"transform":[{"filter":{"field":"k","equal":"O0"}}],"mark":{"type":"point","shape":"circle","filled":false,"size":42,"strokeWidth":1,"opacity":1}},
{"transform":[{"filter":{"field":"k","equal":"O-"}}],"mark":{"type":"point","shape":"M-1,-1L1,1M-1,1L1,-1","filled":false,"size":42,"strokeWidth":1,"opacity":1}},
{"transform":[{"filter":{"field":"k","equal":"O+"}}],"mark":{"type":"point","shape":"M-1,0L1,0M0,-1L0,1","filled":false,"size":50,"strokeWidth":1,"opacity":1}},
{"transform":[{"filter":{"field":"t","equal":"a"}}],
 "mark":{"type":"point","filled":false,"opacity":0},
 "encoding":{
  "color":{"field":"s","type":"nominal","scale":{"domain":["Marseille-Azimut:0","Marseille -Azimut:-45","Marseille -Azimut:45","Paris-Azimut:0","Paris-Azimut:-45","Paris-Azimut:45","Oostende-Azimut:0","Oostende-Azimut:-45","Oostende-Azimut:45"],"range":["#0000ff","#0000ff","#0000ff","#ff0000","#ff0000","#ff0000","#00ff00","#00ff00","#00ff00"]},"legend":{"title":null}},
  "shape":{"field":"s","type":"nominal","scale":{"domain":["Marseille-Azimut:0","Marseille -Azimut:-45","Marseille -Azimut:45","Paris-Azimut:0","Paris-Azimut:-45","Paris-Azimut:45","Oostende-Azimut:0","Oostende-Azimut:-45","Oostende-Azimut:45"],"range":["M-5.9,0L-1,0M1,0L5.9,0M-1,0A1,1,0,1,1,1,0A1,1,0,1,1,-1,0","M-5.9,0L5.9,0M-1,-1L1,1M-1,1L1,-1","M-5.9,0L5.9,0M0,-1.1L0,1.1","M-5.9,0L-1,0M1,0L5.9,0M-1,0A1,1,0,1,1,1,0A1,1,0,1,1,-1,0","M-5.9,0L5.9,0M-1,-1L1,1M-1,1L1,-1","M-5.9,0L5.9,0M0,-1.1L0,1.1","M-5.9,0L-1,0M1,0L5.9,0M-1,0A1,1,0,1,1,1,0A1,1,0,1,1,-1,0","M-5.9,0L5.9,0M-1,-1L1,1M-1,1L1,-1","M-5.9,0L5.9,0M0,-1.1L0,1.1"]},"legend":{"title":null}},
  "x":{"field":"minutes","type":"quantitative","scale":{"type":"log","domain":[1,1000000],"nice":false},
   "axis":{"orient":"top","values":[1,2,3,4,5,6,7,8,9,10,20,30,40,50,60,70,80,90,100,200,300,400,500,600,700,800,900,1000,2000,3000,4000,5000,6000,7000,8000,9000,10000,20000,30000,40000,50000,60000,70000,80000,90000,100000,200000,300000,400000,500000,600000,700000,800000,900000,1000000],"labels":false,"grid":false,"title":null,
   "tickSize":{"condition":{"test":"datum.value==1||datum.value==10||datum.value==100||datum.value==1000||datum.value==10000||datum.value==100000||datum.value==1000000","value":-10.5},"value":-6}}},
  "y":{"field":"y","type":"quantitative","scale":{"domain":[0,1],"nice":false,"zero":false},
   "axis":{"orient":"right","values":[0,0.1,0.2,0.3,0.4,0.5,0.6,0.7,0.8,0.9,1],"labels":false,"grid":false,"title":null,"tickSize":-10.5}}
 }},
{"data":{"values":[{"label":"1\nmin","x":0.76,"y":0.868},{"label":"2\nmin","x":1.54,"y":0.843},{"label":"5\nmin","x":3.93,"y":0.846},{"label":"10\nmin","x":8.43,"y":0.836},{"label":"20\nmin","x":18.3,"y":0.821},{"label":"1 h","x":54.6,"y":0.762},{"label":"10 h","x":598,"y":0.61},{"label":"3.65 j","x":4786,"y":0.405},{"label":"36.5 j","x":47900,"y":0.374},{"label":"1 an","x":491000,"y":0.168}]},
 "mark":{"type":"text","align":"left","baseline":"middle","lineBreak":"\n","font":"DejaVu Serif","fontSize":19,"lineHeight":24},
 "encoding":{
  "x":{"field":"x","type":"quantitative","scale":{"type":"log","domain":[1,1000000],"nice":false},"axis":null},
  "y":{"field":"y","type":"quantitative","scale":{"domain":[0,1],"nice":false,"zero":false},"axis":null},
  "text":{"field":"label","type":"nominal"},
  "color":{"value":"#7f7f7f"}
 }}
],
"resolve":{"axis":{"x":"independent","y":"independent"}},
"config":{
 "font":"DejaVu Serif",
 "view":{"stroke":"#262626","strokeWidth":1},
 "axis":{"labelFont":"DejaVu Serif","titleFont":"DejaVu Serif","labelFontSize":18,"titleFontSize":20,"titleFontWeight":"normal","labelColor":"#262626","titleColor":"#262626","tickColor":"#262626","tickWidth":1,"domain":false},
 "legend":{"orient":"none","legendX":763,"legendY":16,"fillColor":"#ffffff","strokeColor":"#262626","padding":6,"labelFont":"DejaVu Serif","labelFontSize":20,"labelColor":"#000000","labelLimit":400,"symbolSize":49,"symbolStrokeWidth":1,"symbolOffset":12.5,"labelOffset":12,"rowPadding":5.75,"symbolFillColor":"transparent","symbolOpacity":1,"title":null}
}
}
